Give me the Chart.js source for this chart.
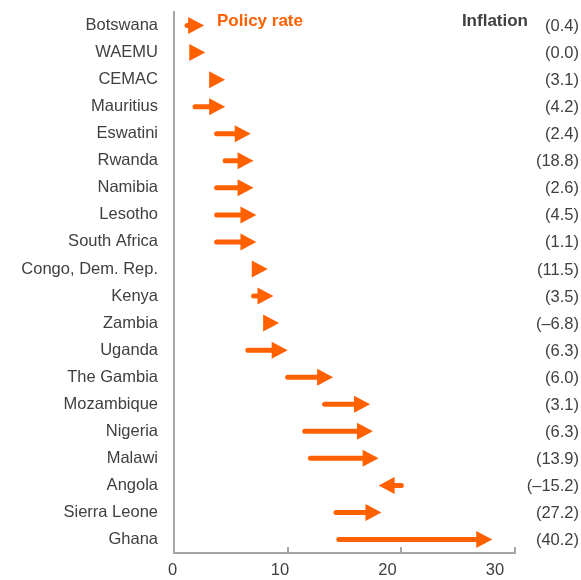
<!DOCTYPE html>
<html>
<head>
<meta charset="utf-8">
<script src="https://cdn.jsdelivr.net/npm/chart.js@4.4.1/dist/chart.umd.min.js"></script>
<style>
  html, body { margin: 0; padding: 0; background: #fff; }
</style>
</head>
<body>
<canvas id="chart" width="581" height="580"></canvas>
<script>
const countries = ['Botswana', 'WAEMU', 'CEMAC', 'Mauritius', 'Eswatini', 'Rwanda', 'Namibia', 'Lesotho', 'South Africa', 'Congo, Dem. Rep.', 'Kenya', 'Zambia', 'Uganda', 'The Gambia', 'Mozambique', 'Nigeria', 'Malawi', 'Angola', 'Sierra Leone', 'Ghana'];
const rateFrom = [1.15, 2.0, 3.5, 1.85, 3.75, 4.5, 3.75, 3.75, 3.75, 7.5, 7.0, 8.5, 6.5, 10.0, 13.25, 11.5, 12.0, 20.0, 14.25, 14.5];
const rateTo = [2.65, 2.75, 4.5, 4.5, 6.75, 7.0, 7.0, 7.25, 7.25, 8.25, 8.75, 9.25, 10.0, 14.0, 17.25, 17.5, 18.0, 18.0, 18.25, 28.0];
const inflation = [0.4, 0.0, 3.1, 4.2, 2.4, 18.8, 2.6, 4.5, 1.1, 11.5, 3.5, -6.8, 6.3, 6.0, 3.1, 6.3, 13.9, -15.2, 27.2, 40.2];
const xTicks = [0, 10, 20, 30];

const ORANGE = '#ff6000';
const INK = '#404040';
const AXIS = '#a6a6a6';
const FONT = "'Liberation Sans', Arial, sans-serif";

function fmtInflation(v) {
  return '(' + (v < 0 ? '\u2013' : '') + Math.abs(v).toFixed(1) + ')';
}

// arrows: shaft + head, from rateFrom to rateTo on the chart's own scales
const arrowPlugin = {
  id: 'arrows',
  afterDatasetsDraw(chart) {
    const ctx = chart.ctx;
    const xs = chart.scales.x, ys = chart.scales.y;
    const headLen = 16, headHalf = 8.5;
    ctx.save();
    ctx.fillStyle = ORANGE;
    ctx.strokeStyle = ORANGE;
    ctx.lineWidth = 5;
    ctx.lineCap = 'round';
    countries.forEach((c, i) => {
      const start = xs.getPixelForValue(rateFrom[i]);
      const tip = xs.getPixelForValue(rateTo[i]);
      const y = ys.getPixelForValue(i);
      const dir = tip >= start ? 1 : -1;
      const shaftEnd = tip - dir * headLen * 0.6;
      if ((shaftEnd - start) * dir > 0) {
        ctx.beginPath();
        ctx.moveTo(start, y);
        ctx.lineTo(shaftEnd, y);
        ctx.stroke();
      }
      ctx.beginPath();
      ctx.moveTo(tip, y);
      ctx.lineTo(tip - dir * headLen, y - headHalf);
      ctx.lineTo(tip - dir * headLen, y + headHalf);
      ctx.closePath();
      ctx.fill();
    });
    ctx.restore();
  }
};

// inner tick marks, headers, inflation column
const extrasPlugin = {
  id: 'extras',
  afterDraw(chart) {
    const ctx = chart.ctx;
    const xs = chart.scales.x, ys = chart.scales.y;
    const area = chart.chartArea;
    ctx.save();
    ctx.strokeStyle = AXIS;
    ctx.lineWidth = 2;
    xTicks.slice(1).forEach((v) => {
      const px = Math.round(xs.getPixelForValue(v));
      ctx.beginPath();
      ctx.moveTo(px, area.bottom);
      ctx.lineTo(px, area.bottom - 6);
      ctx.stroke();
    });

    ctx.textBaseline = 'middle';
    ctx.font = 'bold 17px ' + FONT;
    ctx.fillStyle = ORANGE;
    ctx.textAlign = 'left';
    ctx.fillText('Policy rate', 217, 21);
    ctx.fillStyle = INK;
    ctx.textAlign = 'right';
    ctx.fillText('Inflation', 528, 21);

    ctx.font = '16.5px ' + FONT;
    inflation.forEach((v, i) => {
      ctx.fillText(fmtInflation(v), 579, ys.getPixelForValue(i) + 1);
    });
    ctx.restore();
  }
};

new Chart(document.getElementById('chart'), {
  type: 'bar',
  data: {
    labels: countries,
    datasets: [{
      label: 'Policy rate',
      data: rateFrom.map((v, i) => [v, rateTo[i]]),
      backgroundColor: 'rgba(0,0,0,0)',
      borderWidth: 0
    }]
  },
  options: {
    indexAxis: 'y',
    responsive: false,
    animation: false,
    layout: { padding: { top: 12, right: 66, left: 0, bottom: 0 } },
    plugins: { legend: { display: false }, tooltip: { enabled: false } },
    scales: {
      y: {
        type: 'category',
        grid: { display: false, drawTicks: false },
        border: { color: AXIS, width: 2 },
        ticks: { color: INK, font: { family: FONT, size: 16.5 }, padding: 16, autoSkip: false },
        afterFit: (s) => { s.width = 174; s.paddingTop = 0; s.paddingBottom = 0; }
      },
      x: {
        type: 'linear',
        min: 0,
        max: 30,
        grid: { display: false, drawTicks: false },
        border: { color: AXIS, width: 2 },
        ticks: { display: false },
        afterFit: (s) => { s.height = 0; s.paddingLeft = 0; s.paddingRight = 0; }
      },
      // tick labels sit on their own slightly compressed scale, as in the original
      xLabels: {
        type: 'linear',
        position: 'bottom',
        min: 0.14,
        max: 31.86,
        grid: { display: false, drawTicks: false },
        border: { display: false },
        ticks: { color: INK, font: { family: FONT, size: 16.5 }, padding: 8, autoSkip: false, maxRotation: 0 },
        afterBuildTicks: (s) => { s.ticks = xTicks.map((v) => ({ value: v })); },
        afterFit: (s) => { s.height = 27; s.paddingLeft = 0; s.paddingRight = 0; }
      }
    }
  },
  plugins: [arrowPlugin, extrasPlugin]
});
</script>
</body>
</html>
